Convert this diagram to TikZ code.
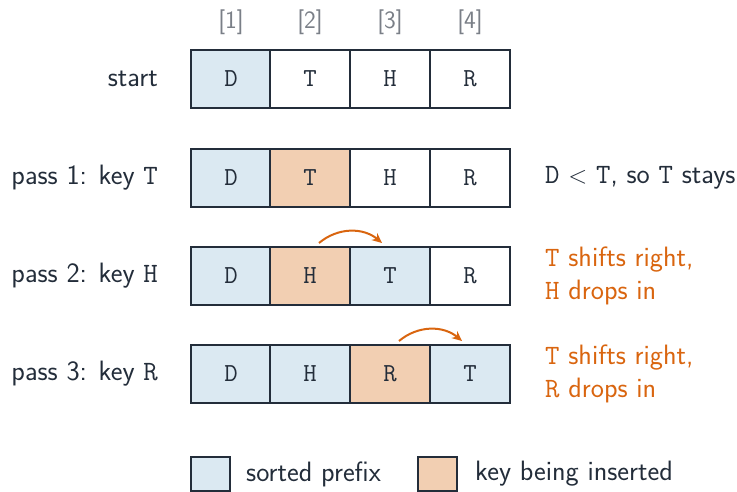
\documentclass[tikz,border=0pt]{standalone}
\usetikzlibrary{arrows.meta}
\definecolor{ink}{HTML}{232D3A}
\definecolor{sortedfill}{HTML}{DBE9F2}
\definecolor{keyfill}{HTML}{F2CFB2}
\definecolor{accent}{HTML}{D9650F}
\definecolor{idxgray}{HTML}{7A7F87}
\begin{document}
\begin{tikzpicture}[x=1pt,y=1pt,
  every node/.style={font=\fontsize{28}{33}\selectfont\sffamily, text=ink},
  cell/.style={draw=ink, line width=2pt, minimum width=80pt, minimum height=58pt,
               inner sep=0pt, font=\fontsize{26}{30}\selectfont\ttfamily},
  sorted/.style={cell, fill=sortedfill},
  inserting/.style={cell, fill=keyfill},
  plain/.style={cell, fill=white},
  rowlabel/.style={anchor=east, inner sep=0pt},
  note/.style={anchor=west, inner sep=0pt, align=left},
  idx/.style={text=idxgray, inner sep=0pt, font=\fontsize{25}{30}\selectfont\sffamily},
  swatch/.style={draw=ink, line width=2pt, minimum width=39pt, minimum height=34pt, inner sep=0pt},
  shiftarrow/.style={draw=accent, line width=2pt, -{Stealth[length=10pt,width=9pt]}}
]
\useasboundingbox (0,0) rectangle (737,-492);

% column indices
\node[idx] (i1) at (231,-22) {[1]};
\node[idx] (i2) at (310,-22) {[2]};
\node[idx] (i3) at (390,-22) {[3]};
\node[idx] (i4) at (470,-22) {[4]};

% start
\node[rowlabel] (l0) at (158,-79) {start};
\node[sorted]   (c01) at (231,-79) {D};
\node[plain]    (c02) at (310,-79) {T};
\node[plain]    (c03) at (390,-79) {H};
\node[plain]    (c04) at (470,-79) {R};

% pass 1
\node[rowlabel] (l1) at (158,-178) {pass 1: key \texttt{T}};
\node[sorted]    (c11) at (231,-178) {D};
\node[inserting] (c12) at (310,-178) {T};
\node[plain]     (c13) at (390,-178) {H};
\node[plain]     (c14) at (470,-178) {R};
\node[note] (n1) at (545,-178) {\texttt{D} $<$ \texttt{T}, so \texttt{T} stays};

% pass 2
\node[rowlabel] (l2) at (158,-276) {pass 2: key \texttt{H}};
\node[sorted]    (c21) at (231,-276) {D};
\node[inserting] (c22) at (310,-276) {H};
\node[sorted]    (c23) at (390,-276) {T};
\node[plain]     (c24) at (470,-276) {R};
\node[note, text=accent] (n2) at (545,-276) {\texttt{T} shifts right,\\\texttt{H} drops in};
\draw[shiftarrow] ([xshift=9pt,yshift=3pt]c22.north) to[bend left=40] ([xshift=-8pt,yshift=3pt]c23.north);

% pass 3
\node[rowlabel] (l3) at (158,-374) {pass 3: key \texttt{R}};
\node[sorted]    (c31) at (231,-374) {D};
\node[sorted]    (c32) at (310,-374) {H};
\node[inserting] (c33) at (390,-374) {R};
\node[sorted]    (c34) at (470,-374) {T};
\node[note, text=accent] (n3) at (545,-374) {\texttt{T} shifts right,\\\texttt{R} drops in};
\draw[shiftarrow] ([xshift=9pt,yshift=3pt]c33.north) to[bend left=40] ([xshift=-8pt,yshift=3pt]c34.north);

% legend
\node[swatch, fill=sortedfill] (k1) at (210,-474) {};
\node[note] (t1) at (246,-474) {sorted prefix};
\node[swatch, fill=keyfill] (k2) at (437,-474) {};
\node[note] (t2) at (475,-474) {key being inserted};
\end{tikzpicture}
\end{document}
